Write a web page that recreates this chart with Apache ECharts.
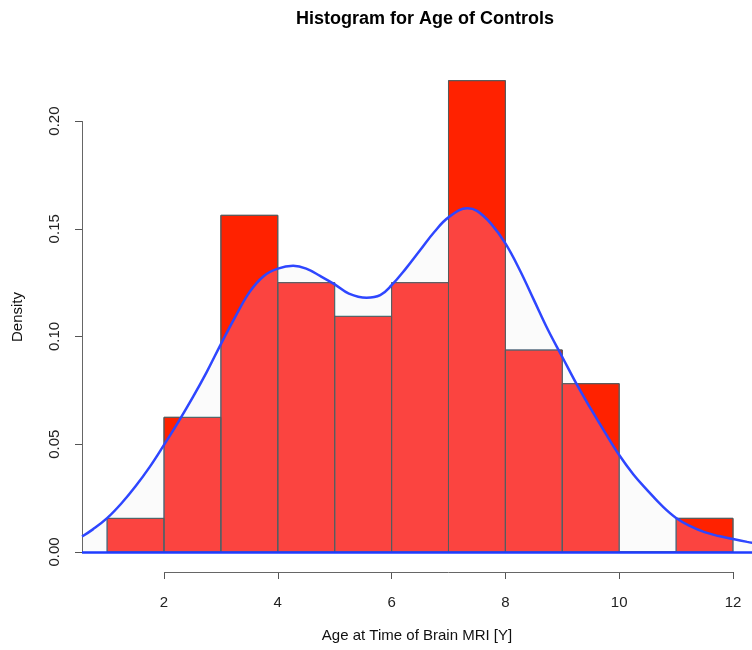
<!DOCTYPE html>
<html>
<head>
<meta charset="utf-8">
<script src="https://cdn.jsdelivr.net/npm/echarts@6/dist/echarts.min.js"></script>
<style>html,body{margin:0;padding:0;background:#fff;}#c{width:752px;height:650px;}</style>
</head>
<body>
<div id="c"></div>
<script>
// Histogram bins (age, years)
const binStarts = [1, 2, 3, 4, 5, 6, 7, 8, 9, 10, 11];
const binEnds   = [2, 3, 4, 5, 6, 7, 8, 9, 10, 11, 12];
const binDensity = [0.015625, 0.0625, 0.15625, 0.125, 0.109375, 0.125, 0.21875, 0.09375, 0.078125, 0, 0.015625];

// Kernel density curve
const kdeX = [0.56, 0.75, 1.0, 1.25, 1.5, 1.75, 2.0, 2.25, 2.5, 2.75, 3.0, 3.25, 3.5, 3.75, 4.0, 4.27, 4.5, 4.75, 5.0, 5.25, 5.56, 5.8, 6.0, 6.25, 6.5, 6.75, 7.0, 7.33, 7.5, 7.75, 8.0, 8.25, 8.5, 8.75, 9.0, 9.25, 9.5, 9.75, 10.0, 10.25, 10.5, 10.75, 11.0, 11.25, 11.5, 11.75, 12.0, 12.25, 12.44];
const kdeY = [0.0072, 0.0105, 0.0157, 0.0225, 0.0305, 0.0395, 0.0497, 0.0603, 0.0715, 0.0835, 0.0965, 0.109, 0.1205, 0.128, 0.1315, 0.1328, 0.1315, 0.128, 0.1242, 0.1199, 0.118, 0.1192, 0.1238, 0.1315, 0.140, 0.1485, 0.1553, 0.1595, 0.1583, 0.1523, 0.1432, 0.131, 0.117, 0.103, 0.0905, 0.078, 0.0665, 0.0555, 0.045, 0.036, 0.0285, 0.0215, 0.0158, 0.0120, 0.0092, 0.0074, 0.0060, 0.0047, 0.0038];

// Axis ticks
const xTicks = [2, 4, 6, 8, 10, 12];
const yTicks = [0, 0.05, 0.10, 0.15, 0.20];
const yTickLabels = ['0.00', '0.05', '0.10', '0.15', '0.20'];

const xMin = 0.559, xMax = 12.334;
const yMin = -0.00928, yMax = 0.2274;

const chart = echarts.init(document.getElementById('c'), null, {renderer: 'canvas'});
const font = 'Liberation Sans, Arial, Helvetica, sans-serif';

const barData = binStarts.map((s, i) => [s, binEnds[i], binDensity[i]]);
const kdeData = kdeX.map((x, i) => [x, kdeY[i]]);
const ADD_FILL = 'rgb(0,36,66)';
const SMOOTH = 0.4;

function barRenderer(fill, stroke) {
  return function (params, api) {
    const p0 = api.coord([api.value(0), 0]);
    const p1 = api.coord([api.value(1), api.value(2)]);
    return {
      type: 'rect',
      shape: {x: p0[0], y: p1[1], width: p1[0] - p0[0], height: p0[1] - p1[1]},
      style: {fill: fill, stroke: stroke, lineWidth: 1}
    };
  };
}

chart.setOption({
  animation: false,
  backgroundColor: '#ffffff',
  title: {
    text: 'Histogram for Age of Controls',
    left: 420, top: 5, textAlign: 'center',
    textStyle: {fontFamily: font, fontSize: 18, fontWeight: 'bold', color: '#000'}
  },
  grid: {left: 82, right: 0, top: 62, bottom: 78, containLabel: false},
  xAxis: {
    type: 'value', min: xMin, max: xMax,
    name: 'Age at Time of Brain MRI [Y]', nameLocation: 'middle', nameGap: 56,
    nameTextStyle: {fontFamily: font, fontSize: 15, color: '#111'},
    axisLine: {show: false, onZero: false},
    splitLine: {show: false},
    axisTick: {show: true, customValues: xTicks, length: 7, lineStyle: {color: '#555', width: 1}},
    axisLabel: {customValues: xTicks, margin: 23, fontFamily: font, fontSize: 15, color: '#222'}
  },
  yAxis: {
    type: 'value', min: yMin, max: yMax,
    name: 'Density', nameLocation: 'middle', nameGap: 57, nameRotate: 90,
    nameTextStyle: {fontFamily: font, fontSize: 15, color: '#111'},
    axisLine: {show: false, onZero: false},
    splitLine: {show: false},
    axisTick: {show: true, customValues: yTicks, length: 7, lineStyle: {color: '#555', width: 1}},
    axisLabel: {customValues: yTicks, rotate: 90, margin: 20, fontFamily: font, fontSize: 15, color: '#222',
      formatter: v => { const i = yTicks.findIndex(t => Math.abs(t - v) < 1e-9); return i >= 0 ? yTickLabels[i] : ''; }}
  },
  series: [
    {
      type: 'custom', z: 1, clip: false,
      data: barData,
      renderItem: barRenderer('#ff2200', '#5a5a5a'),
      markLine: {
        silent: true, symbol: 'none', label: {show: false},
        lineStyle: {color: '#666', type: 'solid', width: 1},
        data: [
          [{coord: [xTicks[0], yMin]}, {coord: [xTicks[xTicks.length - 1], yMin]}],
          [{coord: [xMin, yTicks[0]]}, {coord: [xMin, yTicks[yTicks.length - 1]]}]
        ]
      }
    },
    {
      // additive tint under the density curve (lightens red bars)
      type: 'line', z: 2,
      data: kdeData, smooth: SMOOTH, showSymbol: false, symbol: 'none',
      lineStyle: {width: 0, opacity: 0},
      areaStyle: {color: ADD_FILL, opacity: 1, origin: 0}
    },
    {
      // faint grey veil under the density curve
      type: 'line', z: 3,
      data: kdeData, smooth: SMOOTH, showSymbol: false, symbol: 'none',
      lineStyle: {width: 0, opacity: 0},
      areaStyle: {color: 'rgba(0,0,0,0.02)', origin: 0}
    },
    {
      // bar outlines redrawn on top of the tint
      type: 'custom', z: 4, clip: false,
      data: barData,
      renderItem: barRenderer('none', '#5a5a5a')
    },
    {
      type: 'line', z: 5,
      data: kdeData, smooth: SMOOTH, showSymbol: false, symbol: 'none',
      lineStyle: {color: '#2e46ff', width: 2.5},
      markLine: {
        silent: true, symbol: 'none', label: {show: false},
        lineStyle: {color: '#1f3cff', type: 'solid', width: 2.5},
        data: [[{coord: [xMin, 0]}, {coord: [xMax, 0]}]]
      }
    }
  ]
});

// apply additive blending to the tint area
(function applyBlend() {
  const zr = chart.getZr();
  const list = zr.storage.getDisplayList(true);
  list.forEach(el => {
    if (el.style && typeof el.style.fill === 'string' && el.style.fill.replace(/\s/g, '') === ADD_FILL) {
      el.style.blend = 'lighter';
      el.markRedraw && el.markRedraw();
    }
  });
  zr.refreshImmediately();
})();
</script>
</body>
</html>
